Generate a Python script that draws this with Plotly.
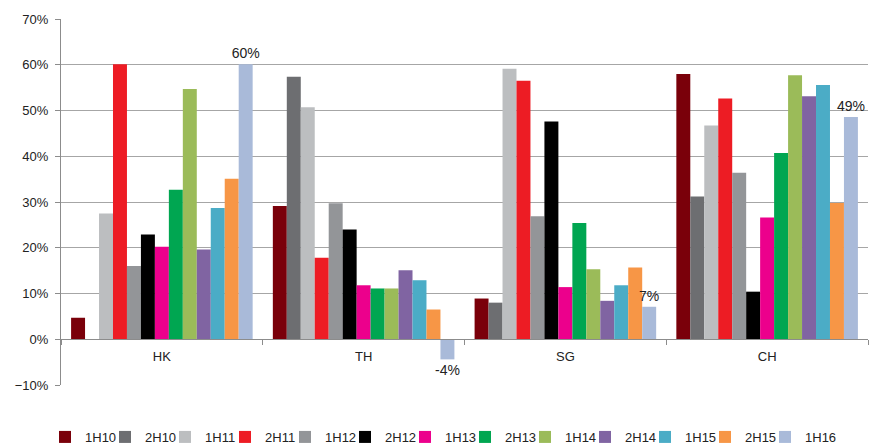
import plotly.graph_objects as go

regions = ["HK", "TH", "SG", "CH"]
periods = ["1H10", "2H10", "1H11", "2H11", "1H12", "2H12", "1H13",
           "2H13", "1H14", "2H14", "1H15", "2H15", "1H16"]

v_1H10 = [4.7, 29.1, 8.9, 58.0]
v_2H10 = [None, 57.4, 8.0, 31.2]
v_1H11 = [27.5, 50.7, 59.1, 46.7]
v_2H11 = [60.1, 17.8, 56.5, 52.6]
v_1H12 = [16.0, 29.7, 26.9, 36.4]
v_2H12 = [22.9, 24.0, 47.6, 10.4]
v_1H13 = [20.2, 11.8, 11.4, 26.6]
v_2H13 = [32.7, 11.1, 25.4, 40.7]
v_1H14 = [54.7, 11.1, 15.3, 57.7]
v_2H14 = [19.6, 15.1, 8.4, 53.1]
v_1H15 = [28.7, 12.9, 11.8, 55.6]
v_2H15 = [35.1, 6.5, 15.7, 29.8]
v_1H16 = [60.1, -4.4, 7.1, 48.6]
labels_1H16 = ["60%", "-4%", "7%", "49%"]

series = [v_1H10, v_2H10, v_1H11, v_2H11, v_1H12, v_2H12, v_1H13,
          v_2H13, v_1H14, v_2H14, v_1H15, v_2H15, v_1H16]
colors = ["#7A000A", "#6D6E71", "#BCBEC0", "#ED1C24", "#939598", "#000000",
          "#EC008C", "#00A651", "#9BBB59", "#8064A2", "#4BACC6", "#F79646",
          "#A9BAD9"]

FONT = "Liberation Sans, Arial, sans-serif"

fig = go.Figure()
for name, vals, col in zip(periods, series, colors):
    kw = {}
    if name == "1H16":
        kw = dict(text=labels_1H16, texttemplate="%{text}", textposition="outside",
                  textfont=dict(size=14, color="#222222", family=FONT),
                  constraintext="none", cliponaxis=False, legendwidth=36)
    fig.add_trace(go.Bar(x=regions, y=vals, name=name,
                         marker=dict(color=col, line=dict(width=0)), **kw))

fig.update_layout(
    width=882, height=444,
    margin=dict(l=61, r=14, t=19, b=59, autoexpand=False),
    barmode="group", bargap=0.1, bargroupgap=0,
    plot_bgcolor="white", paper_bgcolor="white",
    font=dict(family=FONT, size=13, color="#222222"),
    showlegend=True,
    legend=dict(orientation="h", x=-0.0198, xanchor="left", y=-0.142, yanchor="middle",
                font=dict(size=13, color="#222222"), itemwidth=30,
                entrywidth=15, entrywidthmode="pixels",
                traceorder="normal", itemclick=False, bgcolor="rgba(0,0,0,0)"),
)
fig.update_yaxes(range=[-10, 70], dtick=10, tick0=0, ticksuffix="%",
                 showgrid=True, gridcolor="#A6A6A6", gridwidth=1,
                 zeroline=False, showline=True, linecolor="#8C8C8C", linewidth=1,
                 ticks="outside", ticklen=5, tickcolor="#8C8C8C",
                 ticklabelstandoff=4, tickfont=dict(size=13, color="#222222"))
fig.update_xaxes(anchor="free", position=0.125, showline=True, linecolor="#8C8C8C",
                 linewidth=1, ticks="outside", tickson="boundaries", ticklen=5,
                 tickcolor="#8C8C8C", showgrid=False, ticklabelstandoff=5,
                 tickfont=dict(size=13, color="#222222"))

fig.write_html("out.html")
